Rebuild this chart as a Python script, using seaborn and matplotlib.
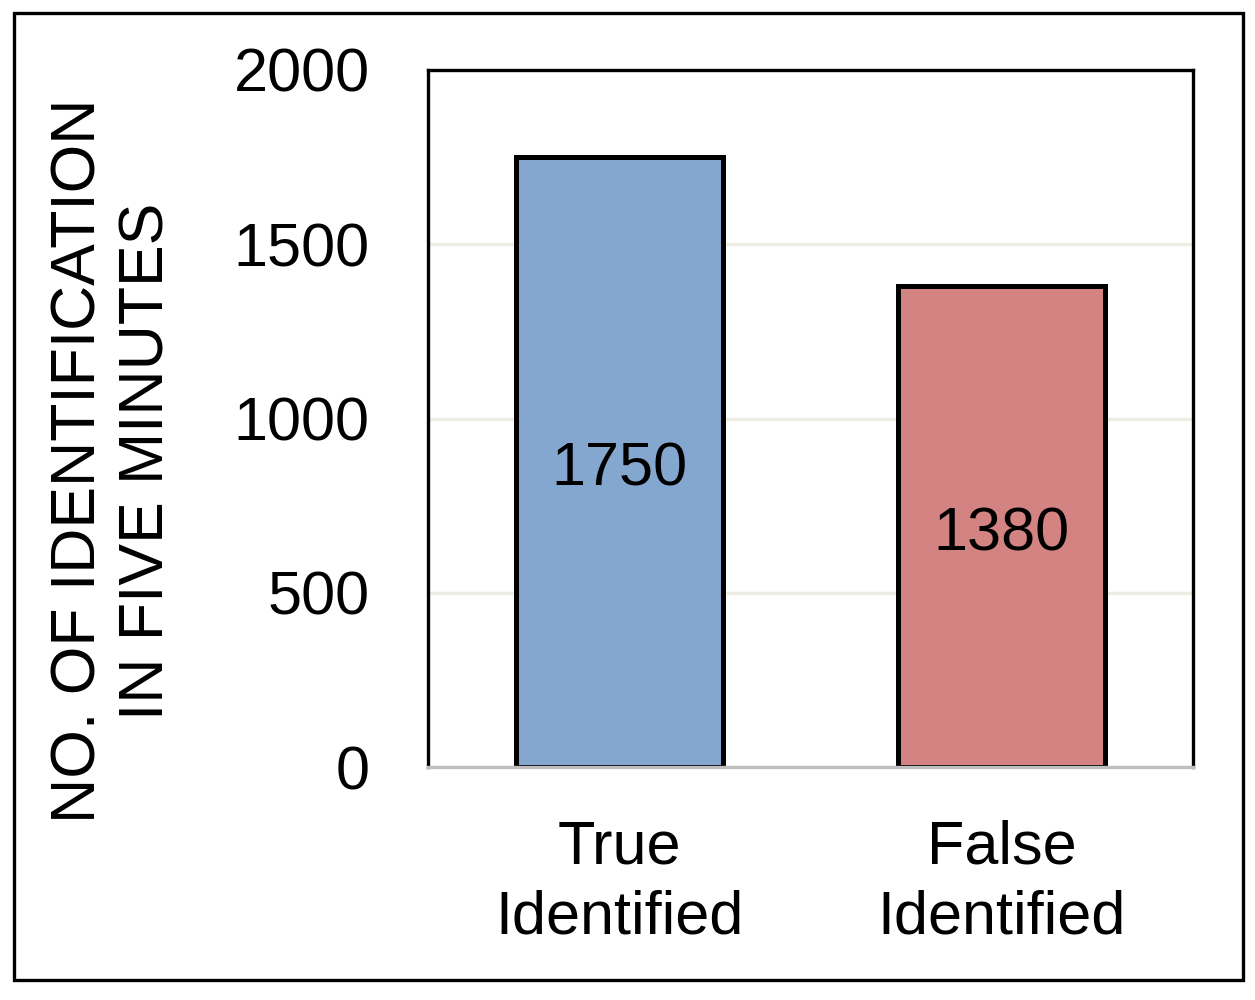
import pandas as pd
import seaborn as sns
import matplotlib.pyplot as plt
from matplotlib.patches import Rectangle

categories = ["True\nIdentified", "False\nIdentified"]
counts = [1750, 1380]
bar_colors = ["#84A7D0", "#D48383"]
y_ticks = [0, 500, 1000, 1500, 2000]

df = pd.DataFrame({"Category": categories, "Count": counts})

sns.set_style("white")
plt.rcParams["font.family"] = ["Liberation Sans", "DejaVu Sans"]
plt.rcParams["text.color"] = "black"

fig = plt.figure(figsize=(12.55, 10), dpi=100)
ax = fig.add_axes([428 / 1255, 1 - 767 / 1000, (1193 - 428) / 1255, (767 - 70) / 1000])

sns.barplot(
    data=df, x="Category", y="Count", hue="Category",
    palette=bar_colors, saturation=1, edgecolor="black", linewidth=3.6,
    width=0.54, legend=False, ax=ax, zorder=3
)

# value labels in the middle of the bars, a touch lower like the original
for c in ax.containers:
    labels = ax.bar_label(c, label_type="center", fontsize=44, color="black")
    for t in labels:
        t.xyann = (0, -6)

ax.set_ylim(0, 2000)
ax.set_xlim(-0.5, 1.5)
ax.set_yticks(y_ticks)
ax.set_yticklabels([str(t) for t in y_ticks])
ax.tick_params(axis="both", length=0, labelsize=44, colors="black")
ax.tick_params(axis="y", pad=42)
ax.tick_params(axis="x", pad=38)
for lab in ax.get_xticklabels():
    lab.set_linespacing(1.28)
ax.set_xlabel("")
ax.set_ylabel("")

# gridlines
ax.yaxis.grid(True, color="#EEEDE3", linewidth=2.5, zorder=0)
ax.set_axisbelow(True)

for side in ["left", "top", "right"]:
    ax.spines[side].set_color("black")
    ax.spines[side].set_linewidth(2.4)
ax.spines["bottom"].set_color("#BFBFBF")
ax.spines["bottom"].set_linewidth(2.4)
ax.spines["bottom"].set_zorder(4)

fig.text(113 / 1255, 1 - 461 / 1000, "NO. OF IDENTIFICATION\nIN FIVE MINUTES",
         rotation=90, ha="center", va="center", fontsize=45, linespacing=1.2,
         color="black")

# outer frame
fig.patches.append(Rectangle((14 / 1255, 1 - 980 / 1000), (1243 - 14) / 1255, (980 - 13) / 1000,
                             transform=fig.transFigure, fill=False,
                             edgecolor="black", linewidth=2.4))

fig.savefig("out.png", dpi=100)
